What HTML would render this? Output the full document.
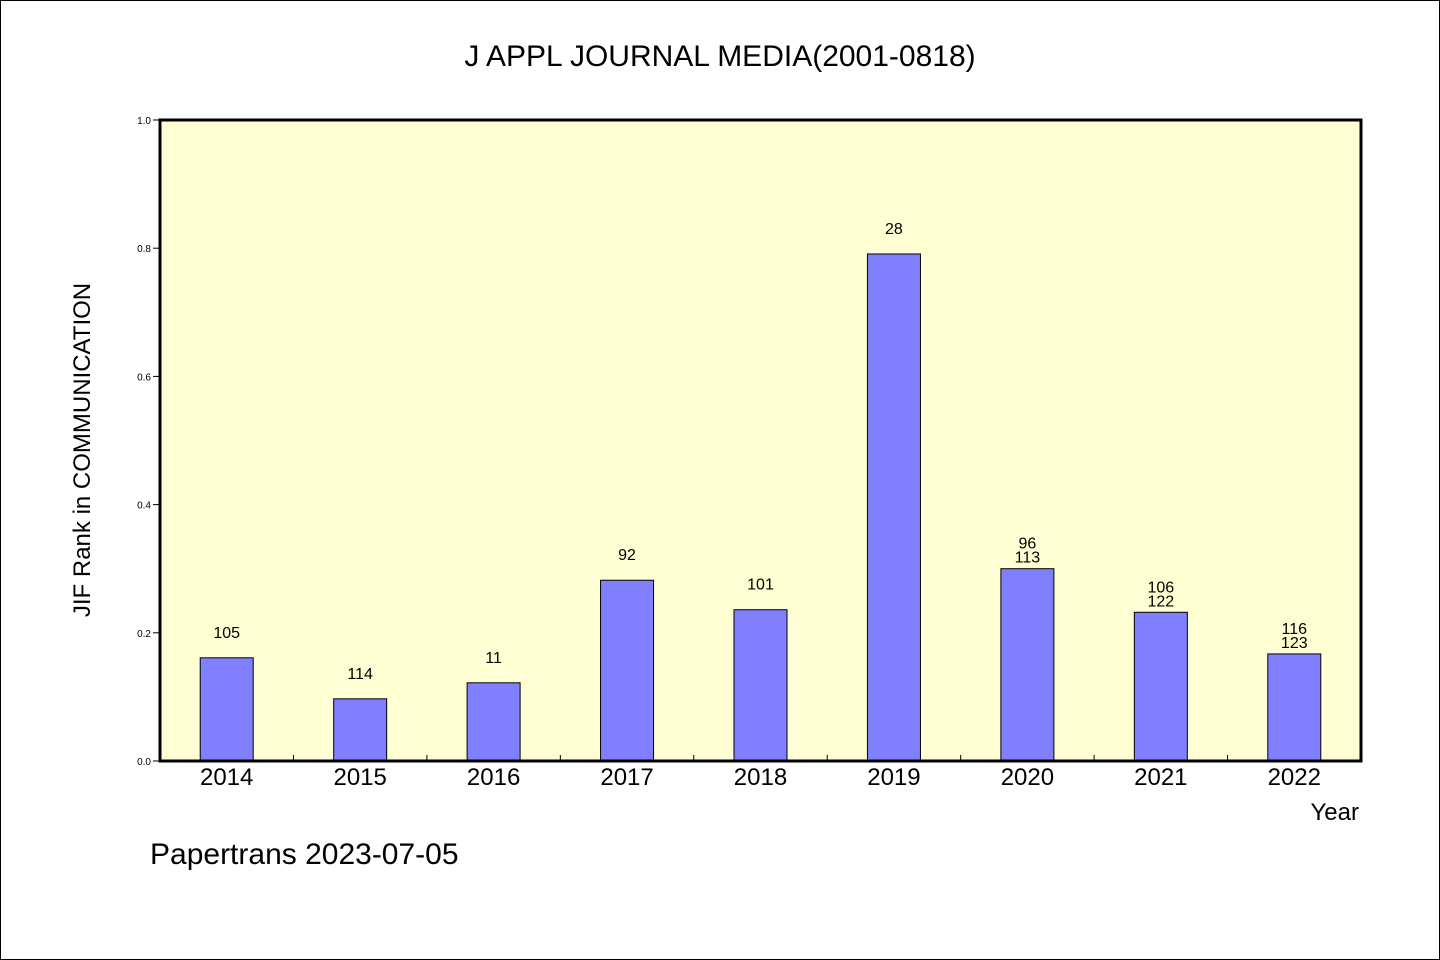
<!DOCTYPE html>
<html><head><meta charset="utf-8"><style>
body{margin:0;background:#fff}
svg{display:block}
text{font-family:"WenQuanYi Zen Hei","Liberation Sans",sans-serif;fill:#000}
</style></head><body>
<svg width="1440" height="960">
<rect x="0.5" y="0.5" width="1439" height="959" fill="#fff" stroke="#000"/>
<text x="720" y="66" font-size="30" text-anchor="middle">J APPL JOURNAL MEDIA(2001-0818)</text>
<rect x="160" y="120" width="1201" height="641" fill="#ffffd3"/>
<g id="marks"></g>
<rect x="160" y="120" width="1201" height="641" fill="none" stroke="#000" stroke-width="3"/>
<text x="90" y="450" font-size="24" text-anchor="middle" transform="rotate(-90 90 450)">JIF Rank in COMMUNICATION</text>
<text x="1359" y="820" font-size="24" text-anchor="end">Year</text>
<text x="150" y="864" font-size="30">Papertrans 2023-07-05</text>
</svg>
<script>
const categories=["2014","2015","2016","2017","2018","2019","2020","2021","2022"];
const values=[0.161,0.097,0.122,0.282,0.236,0.791,0.300,0.232,0.167];
const labelsTop=["105","114","11","92","101","28","96","106","116"];
const labelsBottom=["","","","","","","113","122","123"];
const yTicks=[0,0.2,0.4,0.6,0.8,1.0];
const X0=160,X1=1361,Y0=761,Y1=120;
const band=(X1-X0)/categories.length;
const xc=i=>X0+band*(i+0.5);
const y=v=>Y0-(Y0-Y1)*v;
const NS="http://www.w3.org/2000/svg";
const g=document.getElementById('marks');
function mk(t,a){const e=document.createElementNS(NS,t);for(const k in a)e.setAttribute(k,a[k]);g.appendChild(e);return e;}
yTicks.forEach(t=>{
 const l=mk('line',{x1:153,x2:160,y1:y(t),y2:y(t),stroke:'#000'});
 
 
 const tx=mk('text',{x:151,y:y(t)+4,'font-size':10,'text-anchor':'end'});
 tx.textContent=t.toFixed(1);
 
 
});
for(let i=1;i<categories.length;i++){
 const l=mk('line',{x1:X0+band*i,x2:X0+band*i,y1:Y0,y2:Y0-6,stroke:'#000'});
 
 
}
categories.forEach((c,i)=>{
 const bw=53, top=y(values[i]);
 const r=mk('rect',{x:xc(i)-bw/2,y:top,width:bw,height:Y0-top,fill:'#8080ff',stroke:'#000','stroke-width':1});
 
 
 const xl=mk('text',{x:xc(i),y:785,'font-size':24,'text-anchor':'middle'});
 xl.textContent=c;
 
 
 const two=labelsBottom[i]!=="";
 const t1=mk('text',{x:xc(i),y:two?top-20:top-20,'font-size':16,'text-anchor':'middle'});
 t1.textContent=labelsTop[i];
 
 
 if(two){
  const t2=mk('text',{x:xc(i),y:top-6,'font-size':16,'text-anchor':'middle'});
  t2.textContent=labelsBottom[i];
  
  
 }
});
</script>
</body></html>
